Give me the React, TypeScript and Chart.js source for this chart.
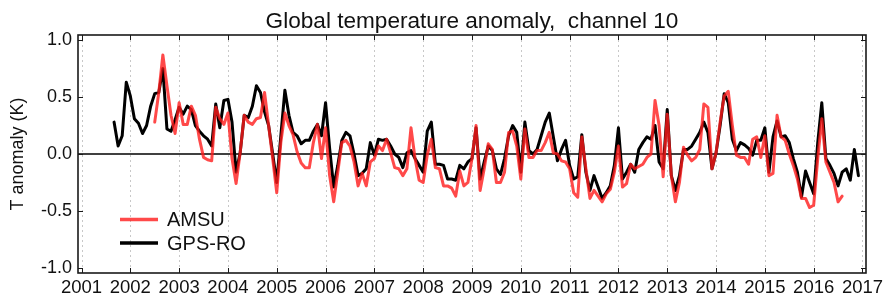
import React, { useEffect, useRef } from "react";
import { Chart, registerables } from "chart.js";

Chart.register(...registerables);

const FONT = "'Liberation Sans', Arial, Helvetica, sans-serif";
const TITLE = "Global temperature anomaly,  channel 10";
const Y_TITLE = "T anomaly (K)";
const YEAR_TICKS = [2001, 2002, 2003, 2004, 2005, 2006, 2007, 2008, 2009, 2010, 2011, 2012, 2013, 2014, 2015, 2016, 2017];
const Y_TICKS = [-1.0, -0.5, 0.0, 0.5, 1.0];
const SERIES_NAMES = ["AMSU", "GPS-RO"];

// GPS-RO monthly anomaly, Sep 2001 .. Dec 2016
const GPSRO_START_YEAR = 2001;
const GPSRO_START_MONTH = 9;
const gpsro = [
  0.28, 0.07, 0.16, 0.63,
  0.51, 0.31, 0.27, 0.18, 0.25, 0.42, 0.53, 0.54, 0.75, 0.22, 0.20, 0.30,
  0.41, 0.35, 0.42, 0.39, 0.25, 0.20, 0.16, 0.13, 0.07, 0.44, 0.23, 0.47,
  0.48, 0.28, -0.16, 0.01, 0.34, 0.32, 0.42, 0.60, 0.54, 0.37, 0.25, 0.00,
  -0.25, 0.16, 0.56, 0.34, 0.19, 0.16, 0.09, 0.12, 0.12, 0.20, 0.26, 0.16,
  0.45, 0.05, -0.29, -0.10, 0.12, 0.19, 0.16, 0.00, -0.19, -0.17, -0.13, 0.10,
  -0.01, 0.13, 0.12, 0.13, 0.07, 0.00, -0.03, -0.12, 0.01, 0.03, -0.04, -0.10,
  -0.16, 0.20, 0.28, -0.09, -0.09, -0.10, -0.22, -0.22, -0.23, -0.10, -0.13, -0.07,
  -0.04, 0.23, -0.22, -0.07, 0.07, 0.03, -0.13, -0.18, -0.04, 0.16, 0.25, 0.19,
  -0.16, 0.28, 0.03, 0.00, 0.04, 0.16, 0.28, 0.36, 0.15, -0.06, 0.04, 0.12,
  -0.10, -0.22, -0.20, 0.17, -0.16, -0.32, -0.19, -0.29, -0.39, -0.34, -0.28, -0.10,
  0.23, -0.22, -0.16, -0.09, -0.16, 0.04, 0.10, 0.15, 0.13, 0.25, -0.07, -0.13,
  0.39, -0.19, -0.32, -0.19, 0.04, 0.04, 0.07, 0.13, 0.19, 0.28, 0.19, -0.13,
  0.01, 0.25, 0.53, 0.45, 0.13, 0.03, 0.10, 0.08, 0.05, -0.01, 0.12, 0.12,
  0.23, -0.16, 0.15, 0.29, 0.15, 0.16, 0.10, -0.04, -0.16, -0.38, -0.15, -0.25,
  -0.35, 0.10, 0.45, -0.04, -0.10, -0.17, -0.28, -0.16, -0.13, -0.23, 0.04, -0.19,
];

// AMSU monthly anomaly, Jul 2002 .. Aug 2016
const AMSU_START_YEAR = 2002;
const AMSU_START_MONTH = 7;
const amsu = [
  0.28, 0.54, 0.87, 0.60, 0.34, 0.18,
  0.45, 0.26, 0.26, 0.42, 0.34, 0.13, -0.03, -0.05, -0.06, 0.41, 0.31, 0.26,
  0.36, -0.04, -0.26, 0.01, 0.34, 0.28, 0.26, 0.31, 0.32, 0.54, 0.25, -0.04,
  -0.34, 0.10, 0.36, 0.25, 0.17, 0.02, -0.08, -0.12, -0.12, 0.10, 0.26, -0.04,
  0.23, -0.19, -0.42, -0.16, 0.10, 0.12, 0.07, -0.07, -0.28, -0.17, -0.28, -0.07,
  -0.04, 0.07, 0.03, 0.13, 0.01, -0.12, -0.13, -0.19, -0.13, 0.23, -0.04, -0.23,
  -0.25, -0.01, 0.13, -0.12, -0.13, -0.28, -0.28, -0.30, -0.37, -0.15, -0.28, -0.25,
  -0.04, 0.25, -0.32, -0.13, 0.09, 0.04, -0.25, -0.25, -0.16, 0.19, 0.20, 0.07,
  -0.22, 0.22, -0.03, -0.03, 0.03, 0.03, 0.10, 0.19, 0.01, 0.00, -0.06, -0.07,
  -0.13, -0.34, -0.38, 0.15, -0.13, -0.39, -0.32, -0.37, -0.42, -0.35, -0.31, -0.16,
  0.07, -0.29, -0.26, -0.09, -0.13, -0.11, -0.09, -0.03, 0.00, 0.47, 0.25, -0.20,
  0.35, -0.19, -0.42, -0.25, 0.06, -0.01, -0.06, -0.03, 0.04, 0.44, 0.41, -0.13,
  0.01, 0.28, 0.51, 0.55, 0.25, -0.01, -0.03, -0.03, -0.09, 0.13, 0.15, -0.03,
  0.16, -0.19, -0.17, 0.34, 0.15, 0.12, 0.00, -0.10, -0.22, -0.39, -0.39, -0.47,
  -0.45, -0.04, 0.31, -0.07, -0.16, -0.25, -0.42, -0.37,
];

function toPoints(startYear: number, startMonth: number, values: number[]) {
  return values.map((v, i) => ({ x: startYear + (startMonth - 1 + i) / 12, y: v }));
}

const RED = "rgba(255, 28, 28, 0.8)";
const BLACK = "#000000";

const decorPlugin = {
  id: "decor",
  beforeDatasetsDraw(chart: any) {
    const { ctx, chartArea: a, scales } = chart;
    const xs = scales.x;
    const ys = scales.y;
    ctx.save();
    ctx.strokeStyle = "#c8c8c8";
    ctx.lineWidth = 1;
    ctx.setLineDash([2, 3]);
    YEAR_TICKS.forEach((yr) => {
      const px = Math.round(xs.getPixelForValue(yr)) + 0.5;
      ctx.beginPath();
      ctx.moveTo(px, a.top);
      ctx.lineTo(px, a.bottom);
      ctx.stroke();
    });
    ctx.setLineDash([]);
    const y0 = ys.getPixelForValue(0);
    ctx.strokeStyle = "#000";
    ctx.lineWidth = 1.6;
    ctx.beginPath();
    ctx.moveTo(a.left, y0);
    ctx.lineTo(a.right, y0);
    ctx.stroke();
    ctx.restore();
  },
  afterDatasetsDraw(chart: any) {
    const { ctx, chartArea: a, scales } = chart;
    const xs = scales.x;
    const ys = scales.y;
    ctx.save();
    ctx.strokeStyle = "#1a1a1a";
    ctx.lineWidth = 1.6;
    ctx.strokeRect(a.left, a.top, a.right - a.left, a.bottom - a.top);
    ctx.lineWidth = 1;
    const tl = 5;
    YEAR_TICKS.forEach((yr) => {
      const px = Math.round(xs.getPixelForValue(yr)) + 0.5;
      ctx.beginPath();
      ctx.moveTo(px, a.top);
      ctx.lineTo(px, a.top + tl);
      ctx.moveTo(px, a.bottom);
      ctx.lineTo(px, a.bottom - tl);
      ctx.stroke();
    });
    Y_TICKS.forEach((v) => {
      const py = Math.round(ys.getPixelForValue(v)) + 0.5;
      ctx.beginPath();
      ctx.moveTo(a.left, py);
      ctx.lineTo(a.left + tl, py);
      ctx.moveTo(a.right, py);
      ctx.lineTo(a.right - tl, py);
      ctx.stroke();
    });
    const colors = [RED, BLACK];
    const rows = [219.5, 243];
    ctx.font = `20px ${FONT}`;
    ctx.textAlign = "left";
    ctx.textBaseline = "middle";
    SERIES_NAMES.forEach((name, i) => {
      ctx.strokeStyle = colors[i];
      ctx.lineWidth = 3.5;
      ctx.beginPath();
      ctx.moveTo(120, rows[i]);
      ctx.lineTo(158, rows[i]);
      ctx.stroke();
      ctx.fillStyle = "#111";
      ctx.fillText(name, 167, rows[i] + 1);
    });
    ctx.restore();
  },
  afterDraw(chart: any) {
    const { ctx, chartArea: a } = chart;
    ctx.save();
    ctx.font = `22.6px ${FONT}`;
    ctx.fillStyle = "#111";
    ctx.textAlign = "center";
    ctx.textBaseline = "middle";
    ctx.fillText(TITLE, (a.left + a.right) / 2, 21.5);
    ctx.restore();
  },
};

export default function App() {
  const ref = useRef<HTMLCanvasElement | null>(null);

  useEffect(() => {
    if (!ref.current) return;
    const chart = new Chart(ref.current, {
      type: "line",
      data: {
        datasets: [
          {
            label: SERIES_NAMES[0],
            data: toPoints(AMSU_START_YEAR, AMSU_START_MONTH, amsu),
            borderColor: RED,
            borderWidth: 3,
            pointRadius: 0,
            tension: 0,
            borderJoinStyle: "round",
            borderCapStyle: "round",
          },
          {
            label: SERIES_NAMES[1],
            data: toPoints(GPSRO_START_YEAR, GPSRO_START_MONTH, gpsro),
            borderColor: BLACK,
            borderWidth: 3,
            pointRadius: 0,
            tension: 0,
            borderJoinStyle: "round",
            borderCapStyle: "round",
          },
        ],
      },
      options: {
        animation: false,
        responsive: false,
        layout: { padding: { top: 35, right: 26, left: 0, bottom: 0 } },
        plugins: {
          legend: { display: false },
          tooltip: { enabled: false },
          title: { display: false },
        },
        scales: {
          x: {
            type: "linear",
            min: 2000.928,
            max: 2017.072,
            grid: { display: false, drawTicks: false },
            border: { display: false },
            afterBuildTicks: (scale: any) => {
              scale.ticks = YEAR_TICKS.map((v) => ({ value: v }));
            },
            afterFit: (scale: any) => {
              scale.height = 25;
            },
            ticks: {
              autoSkip: false,
              maxRotation: 0,
              minRotation: 0,
              padding: 4,
              color: "#111",
              font: { family: FONT, size: 18.5 },
              callback: (v: any) => String(v),
            },
          },
          y: {
            type: "linear",
            min: -1.045,
            max: 1.045,
            grid: { display: false, drawTicks: false },
            border: { display: false },
            afterBuildTicks: (scale: any) => {
              scale.ticks = Y_TICKS.map((v) => ({ value: v }));
            },
            afterFit: (scale: any) => {
              scale.width = 78;
            },
            ticks: {
              padding: 6,
              color: "#111",
              font: { family: FONT, size: 18 },
              callback: (v: any) => Number(v).toFixed(1),
            },
            title: {
              display: true,
              text: Y_TITLE,
              color: "#111",
              font: { family: FONT, size: 18 },
              padding: { top: 7, bottom: 0 },
            },
          },
        },
      },
      plugins: [decorPlugin],
    } as any);
    return () => chart.destroy();
  }, []);

  return (
    <div style={{ position: "fixed", left: 0, top: 0, width: 892, height: 298, background: "#fff" }}>
      <canvas ref={ref} width={892} height={298} style={{ display: "block", width: 892, height: 298 }} />
    </div>
  );
}
